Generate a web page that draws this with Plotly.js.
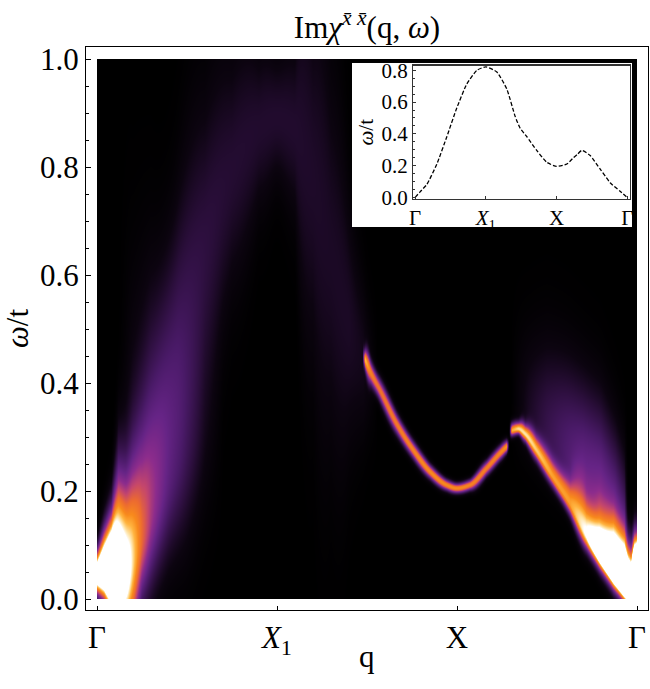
<!DOCTYPE html>
<html>
<head>
<meta charset="utf-8">
<script src="https://cdn.plot.ly/plotly-3.0.1.min.js"></script>
<style>html,body{margin:0;padding:0;background:#fff;}</style>
</head>
<body>
<div id="chart" style="width:650px;height:689px;"></div>
<script>
// ---------------- values ----------------
// q path: 0 = Γ, 1 = X1, 2 = X, 3 = Γ
const qTickVals = [0, 1, 2, 3];
const qTickText = ['Γ', '<i>X</i><sub>1</sub>', 'X', 'Γ'];
const omegaTickVals = [0, 0.2, 0.4, 0.6, 0.8, 1.0];
const omegaTickText = ['0.0', '0.2', '0.4', '0.6', '0.8', '1.0'];
const insetOmegaTickVals = [0, 0.2, 0.4, 0.6, 0.8];
const insetOmegaTickText = ['0.0', '0.2', '0.4', '0.6', '0.8'];

// inset: dispersion of the peak
const insetQ = [0, 0.07, 0.166, 0.307, 0.448, 0.59, 0.731, 0.873, 1.0, 1.156, 1.297, 1.415, 1.486, 1.58, 1.72, 1.863, 2.0, 2.146, 2.24, 2.288, 2.358, 2.476, 2.618, 2.76, 2.9, 3.0];
const insetOmega = [0, 0.035, 0.082, 0.21, 0.382, 0.564, 0.714, 0.80, 0.822, 0.789, 0.682, 0.51, 0.435, 0.382, 0.296, 0.221, 0.195, 0.21, 0.25, 0.268, 0.296, 0.264, 0.178, 0.092, 0.039, 0];

// sharp mode, first branch (q, centre ω, peak intensity, width)
const band1Q     = [1.475, 1.49, 1.52, 1.572, 1.664, 1.757, 1.85, 1.943, 2.0, 2.072, 2.164, 2.239, 2.276, 2.29];
const band1Omega = [0.45, 0.443, 0.42, 0.387, 0.325, 0.276, 0.236, 0.211, 0.205, 0.211, 0.242, 0.27, 0.282, 0.285];
const band1Amp   = [0, 0.8, 0.72, 0.72, 0.75, 0.78, 0.8, 0.8, 0.8, 0.78, 0.76, 0.78, 0.82, 0];
const band1Width = [0.0065, 0.0065, 0.0065, 0.0065, 0.0065, 0.0065, 0.0065, 0.0065, 0.0065, 0.0065, 0.0065, 0.0065, 0.0065, 0.0065];

// sharp mode, second branch
const band2Q       = [2.29, 2.305, 2.34, 2.38, 2.44, 2.53, 2.63, 2.72, 2.79, 2.87, 2.93, 2.97, 3.0];
const band2Omega   = [0.31, 0.312, 0.315, 0.305, 0.276, 0.227, 0.175, 0.118, 0.085, 0.052, 0.028, 0.012, 0.0];
const band2Amp     = [0, 0.85, 0.9, 0.88, 0.82, 0.76, 0.78, 1.0, 1.35, 1.7, 1.8, 1.7, 1.5];
const band2WidthLo = [0.007, 0.007, 0.007, 0.007, 0.007, 0.007, 0.008, 0.01, 0.012, 0.014, 0.014, 0.014, 0.014];
const band2WidthHi = [0.009, 0.009, 0.009, 0.009, 0.01, 0.012, 0.016, 0.024, 0.03, 0.035, 0.035, 0.033, 0.03];

// broad magnon hump from Γ over X1
const humpQ     = [0.12, 0.2, 0.3, 0.45, 0.6, 0.75, 0.9, 1.0, 1.1, 1.2, 1.3, 1.4, 1.48, 1.56];
const humpOmega = [0.12, 0.24, 0.36, 0.5, 0.66, 0.79, 0.87, 0.89, 0.87, 0.78, 0.64, 0.51, 0.445, 0.4];
const humpAmp   = [0, 0.12, 0.18, 0.2, 0.18, 0.16, 0.15, 0.15, 0.15, 0.14, 0.13, 0.13, 0.1, 0];
const humpWidth = [0.055, 0.055, 0.055, 0.055, 0.058, 0.065, 0.075, 0.08, 0.075, 0.065, 0.056, 0.05, 0.045, 0.04];

// bright low-energy weight next to the first Γ
const gammaQ       = [0.0, 0.04, 0.08, 0.12, 0.16, 0.2, 0.25, 0.3, 0.4, 0.5, 0.6, 0.7];
const gammaOmega   = [0.045, 0.05, 0.055, 0.055, 0.05, 0.07, 0.11, 0.15, 0.22, 0.28, 0.33, 0.38];
const gammaAmp     = [1.3, 1.6, 1.8, 1.3, 1.1, 0.85, 0.6, 0.45, 0.3, 0.18, 0.08, 0];
const gammaWidthLo = [0.025, 0.035, 0.06, 0.08, 0.09, 0.1, 0.08, 0.09, 0.1, 0.12, 0.12, 0.12];
const gammaWidthHi = [0.03, 0.05, 0.065, 0.12, 0.12, 0.13, 0.14, 0.15, 0.16, 0.17, 0.17, 0.17];

// diffuse continuum above the second branch
const contQ       = [2.3, 2.4, 2.5, 2.6, 2.7, 2.8, 2.88, 2.93, 2.95];
const contOmega   = [0.36, 0.34, 0.31, 0.28, 0.24, 0.2, 0.16, 0.13, 0.11];
const contAmp     = [0, 0.12, 0.22, 0.3, 0.38, 0.42, 0.38, 0.3, 0];
const contWidthLo = [0.05, 0.05, 0.05, 0.05, 0.05, 0.05, 0.05, 0.05, 0.05];
const contWidthHi = [0.1, 0.1, 0.11, 0.11, 0.11, 0.11, 0.1, 0.09, 0.08];

// bright low-energy weight at the last Γ
const edgeQ       = [2.968, 2.985, 3.0];
const edgeOmega   = [0.05, 0.055, 0.055];
const edgeAmp     = [0, 1.2, 1.6];
const edgeWidthLo = [0.03, 0.03, 0.03];
const edgeWidthHi = [0.04, 0.045, 0.045];

// colour map (black - purple - orange - white)
const sunset = [
  [0, '#000000'], [0.08, '#0c0410'], [0.18, '#2a0e3a'], [0.3, '#4a1a68'],
  [0.4, '#662486'], [0.5, '#8c2c8c'], [0.6, '#c4466c'], [0.7, '#ec6a30'],
  [0.8, '#f88a1c'], [0.88, '#ffb440'], [0.95, '#ffe4a8'], [1, '#ffffff']
];

// ---------------- build the intensity table ----------------
function makePchip(xs, ys) {
  const n = xs.length, h = [], d = [], m = new Array(n);
  for (let i = 0; i < n - 1; i++) { h[i] = xs[i + 1] - xs[i]; d[i] = (ys[i + 1] - ys[i]) / h[i]; }
  m[0] = d[0]; m[n - 1] = d[n - 2];
  for (let i = 1; i < n - 1; i++) {
    if (d[i - 1] * d[i] <= 0) m[i] = 0;
    else { const w1 = 2 * h[i] + h[i - 1], w2 = h[i] + 2 * h[i - 1]; m[i] = (w1 + w2) / (w1 / d[i - 1] + w2 / d[i]); }
  }
  return function (x) {
    let i = 0; while (i < n - 2 && x > xs[i + 1]) i++;
    const t = (x - xs[i]) / h[i], t2 = t * t, t3 = t2 * t;
    return (2 * t3 - 3 * t2 + 1) * ys[i] + (t3 - 2 * t2 + t) * h[i] * m[i] + (-2 * t3 + 3 * t2) * ys[i + 1] + (t3 - t2) * h[i] * m[i + 1];
  };
}
function lin(xs, ys, x) {
  let i = 0; while (i < xs.length - 2 && x > xs[i + 1]) i++;
  const t = (x - xs[i]) / (xs[i + 1] - xs[i]);
  return ys[i] + (ys[i + 1] - ys[i]) * Math.max(0, Math.min(1, t));
}
const components = [
  { q: band1Q, w: band1Omega, a: band1Amp, lo: band1Width, hi: band1Width, tilt: true },
  { q: band2Q, w: band2Omega, a: band2Amp, lo: band2WidthLo, hi: band2WidthHi, tilt: true },
  { q: humpQ, w: humpOmega, a: humpAmp, lo: humpWidth, hi: humpWidth, tilt: true },
  { q: gammaQ, w: gammaOmega, a: gammaAmp, lo: gammaWidthLo, hi: gammaWidthHi, tilt: false },
  { q: contQ, w: contOmega, a: contAmp, lo: contWidthLo, hi: contWidthHi, tilt: false },
  { q: edgeQ, w: edgeOmega, a: edgeAmp, lo: edgeWidthLo, hi: edgeWidthHi, tilt: false }
];
components.forEach(c => { c.f = makePchip(c.q, c.w); });

const NQ = 540, NW = 540;
const qEdges = [], wEdges = [];
for (let i = 0; i <= NQ; i++) qEdges.push(3 * i / NQ);
for (let j = 0; j <= NW; j++) wEdges.push(j / NW);
const z = [];
for (let j = 0; j < NW; j++) z.push(new Array(NQ).fill(0));
for (let i = 0; i < NQ; i++) {
  const q = 3 * (i + 0.5) / NQ;
  components.forEach(c => {
    const q0 = c.q[0], q1 = c.q[c.q.length - 1];
    if (q < q0 || q > q1) return;
    const cen = c.f(q);
    let fac = 1;
    if (c.tilt) {
      const e = 0.004, qa = Math.max(q0, q - e), qb = Math.min(q1, q + e);
      const slope = (c.f(qb) - c.f(qa)) / (qb - qa);
      fac = Math.sqrt(1 + 9 * slope * slope);
    }
    const amp = lin(c.q, c.a, q), sLo = lin(c.q, c.lo, q) * fac, sHi = lin(c.q, c.hi, q) * fac;
    if (amp <= 0) return;
    for (let j = 0; j < NW; j++) {
      const w = (j + 0.5) / NW, d = w - cen, s = d < 0 ? sLo : sHi, u = d / s;
      if (u * u < 60) z[j][i] += amp * Math.exp(-0.5 * u * u);
    }
  });
}

// ---------------- figure ----------------
const serif = 'Liberation Serif, Times New Roman, serif';
const traces = [
  { type: 'heatmap', x: qEdges, y: wEdges, z: z, colorscale: sunset, zmin: 0, zmax: 1,
    showscale: false, hoverinfo: 'skip', zsmooth: false, xaxis: 'x', yaxis: 'y' },
  { type: 'scatter', x: [0.5], y: [0.5], xaxis: 'x2', yaxis: 'y2', mode: 'markers',
    marker: { opacity: 0 }, hoverinfo: 'skip', showlegend: false },
  { type: 'scatter', x: insetQ, y: insetOmega, xaxis: 'x3', yaxis: 'y3', mode: 'lines',
    line: { color: '#000', width: 1.3, dash: '4px,2px', shape: 'spline', smoothing: 0.5 },
    hoverinfo: 'skip', showlegend: false }
];

const layout = {
  width: 650, height: 689,
  margin: { l: 86, r: 2, t: 47, b: 79 },
  paper_bgcolor: '#ffffff', plot_bgcolor: '#ffffff',
  font: { family: serif, color: '#000', size: 31 },
  showlegend: false,
  title: {
    text: 'Im<i>χ</i><sup><i>x\u0304</i> <i>x\u0304</i></sup>(q, <i>ω</i>)',
    x: 0.5, xref: 'paper', xanchor: 'center',
    y: 1 - 27 / 689, yref: 'container', yanchor: 'middle',
    font: { family: serif, size: 31, color: '#000' }
  },
  annotations: [
    { text: 'q', xref: 'paper', yref: 'paper', x: 0.5, y: (610 - 656) / 563,
      xanchor: 'center', yanchor: 'middle', showarrow: false,
      font: { family: serif, size: 31, color: '#000' } }
  ],
  xaxis: {
    domain: [0, 1], anchor: 'y', range: [-0.0611, 3.0611],
    tickmode: 'array', tickvals: qTickVals, ticktext: qTickText,
    ticks: 'inside', ticklen: 4, tickwidth: 1, tickcolor: '#000',
    showline: true, linecolor: '#000', linewidth: 1, mirror: true,
    showgrid: false, zeroline: false, fixedrange: true,
    tickfont: { family: serif, size: 31, color: '#000' }
  },
  yaxis: {
    domain: [0, 1], anchor: 'x', range: [-0.02037, 1.02222],
    tickmode: 'array', tickvals: omegaTickVals, ticktext: omegaTickText,
    ticks: 'inside', ticklen: 5, tickwidth: 1, tickcolor: '#000',
    minor: { dtick: 0.05, tick0: 0, ticks: 'inside', ticklen: 3, tickcolor: '#000', showgrid: false },
    showline: true, linecolor: '#000', linewidth: 1, mirror: true,
    showgrid: false, zeroline: false, fixedrange: true,
    tickfont: { family: serif, size: 31, color: '#000' },
    title: { text: '<i>ω</i>/t', standoff: 6, font: { family: serif, size: 31, color: '#000' } }
  },
  xaxis2: { domain: [0.4733, 0.9715], anchor: 'y2', range: [0, 1], visible: false, fixedrange: true },
  yaxis2: { domain: [0.6803, 0.9716], anchor: 'x2', range: [0, 1], visible: false, fixedrange: true },
  xaxis3: {
    domain: [0.5819, 0.9680], anchor: 'y3', range: [-0.03, 3.04],
    tickmode: 'array', tickvals: qTickVals, ticktext: qTickText,
    ticks: 'inside', ticklen: 3, tickcolor: '#333',
    showline: true, linecolor: '#333', linewidth: 1.2, mirror: true,
    showgrid: false, zeroline: false, fixedrange: true,
    tickfont: { family: serif, size: 21, color: '#000' }
  },
  yaxis3: {
    domain: [0.7300, 0.9671], anchor: 'x3', range: [-0.01, 0.83],
    tickmode: 'array', tickvals: insetOmegaTickVals, ticktext: insetOmegaTickText,
    ticks: 'inside', ticklen: 3, tickcolor: '#333',
    minor: { dtick: 0.05, tick0: 0, ticks: 'inside', ticklen: 2, tickcolor: '#333', showgrid: false },
    showline: true, linecolor: '#333', linewidth: 1.2, mirror: true,
    showgrid: false, zeroline: false, fixedrange: true,
    tickfont: { family: serif, size: 21, color: '#000' },
    title: { text: '<i>ω</i>/t', standoff: 2, font: { family: serif, size: 21, color: '#000' } }
  }
};

Plotly.newPlot('chart', traces, layout, { staticPlot: true, displayModeBar: false });
</script>
</body>
</html>
